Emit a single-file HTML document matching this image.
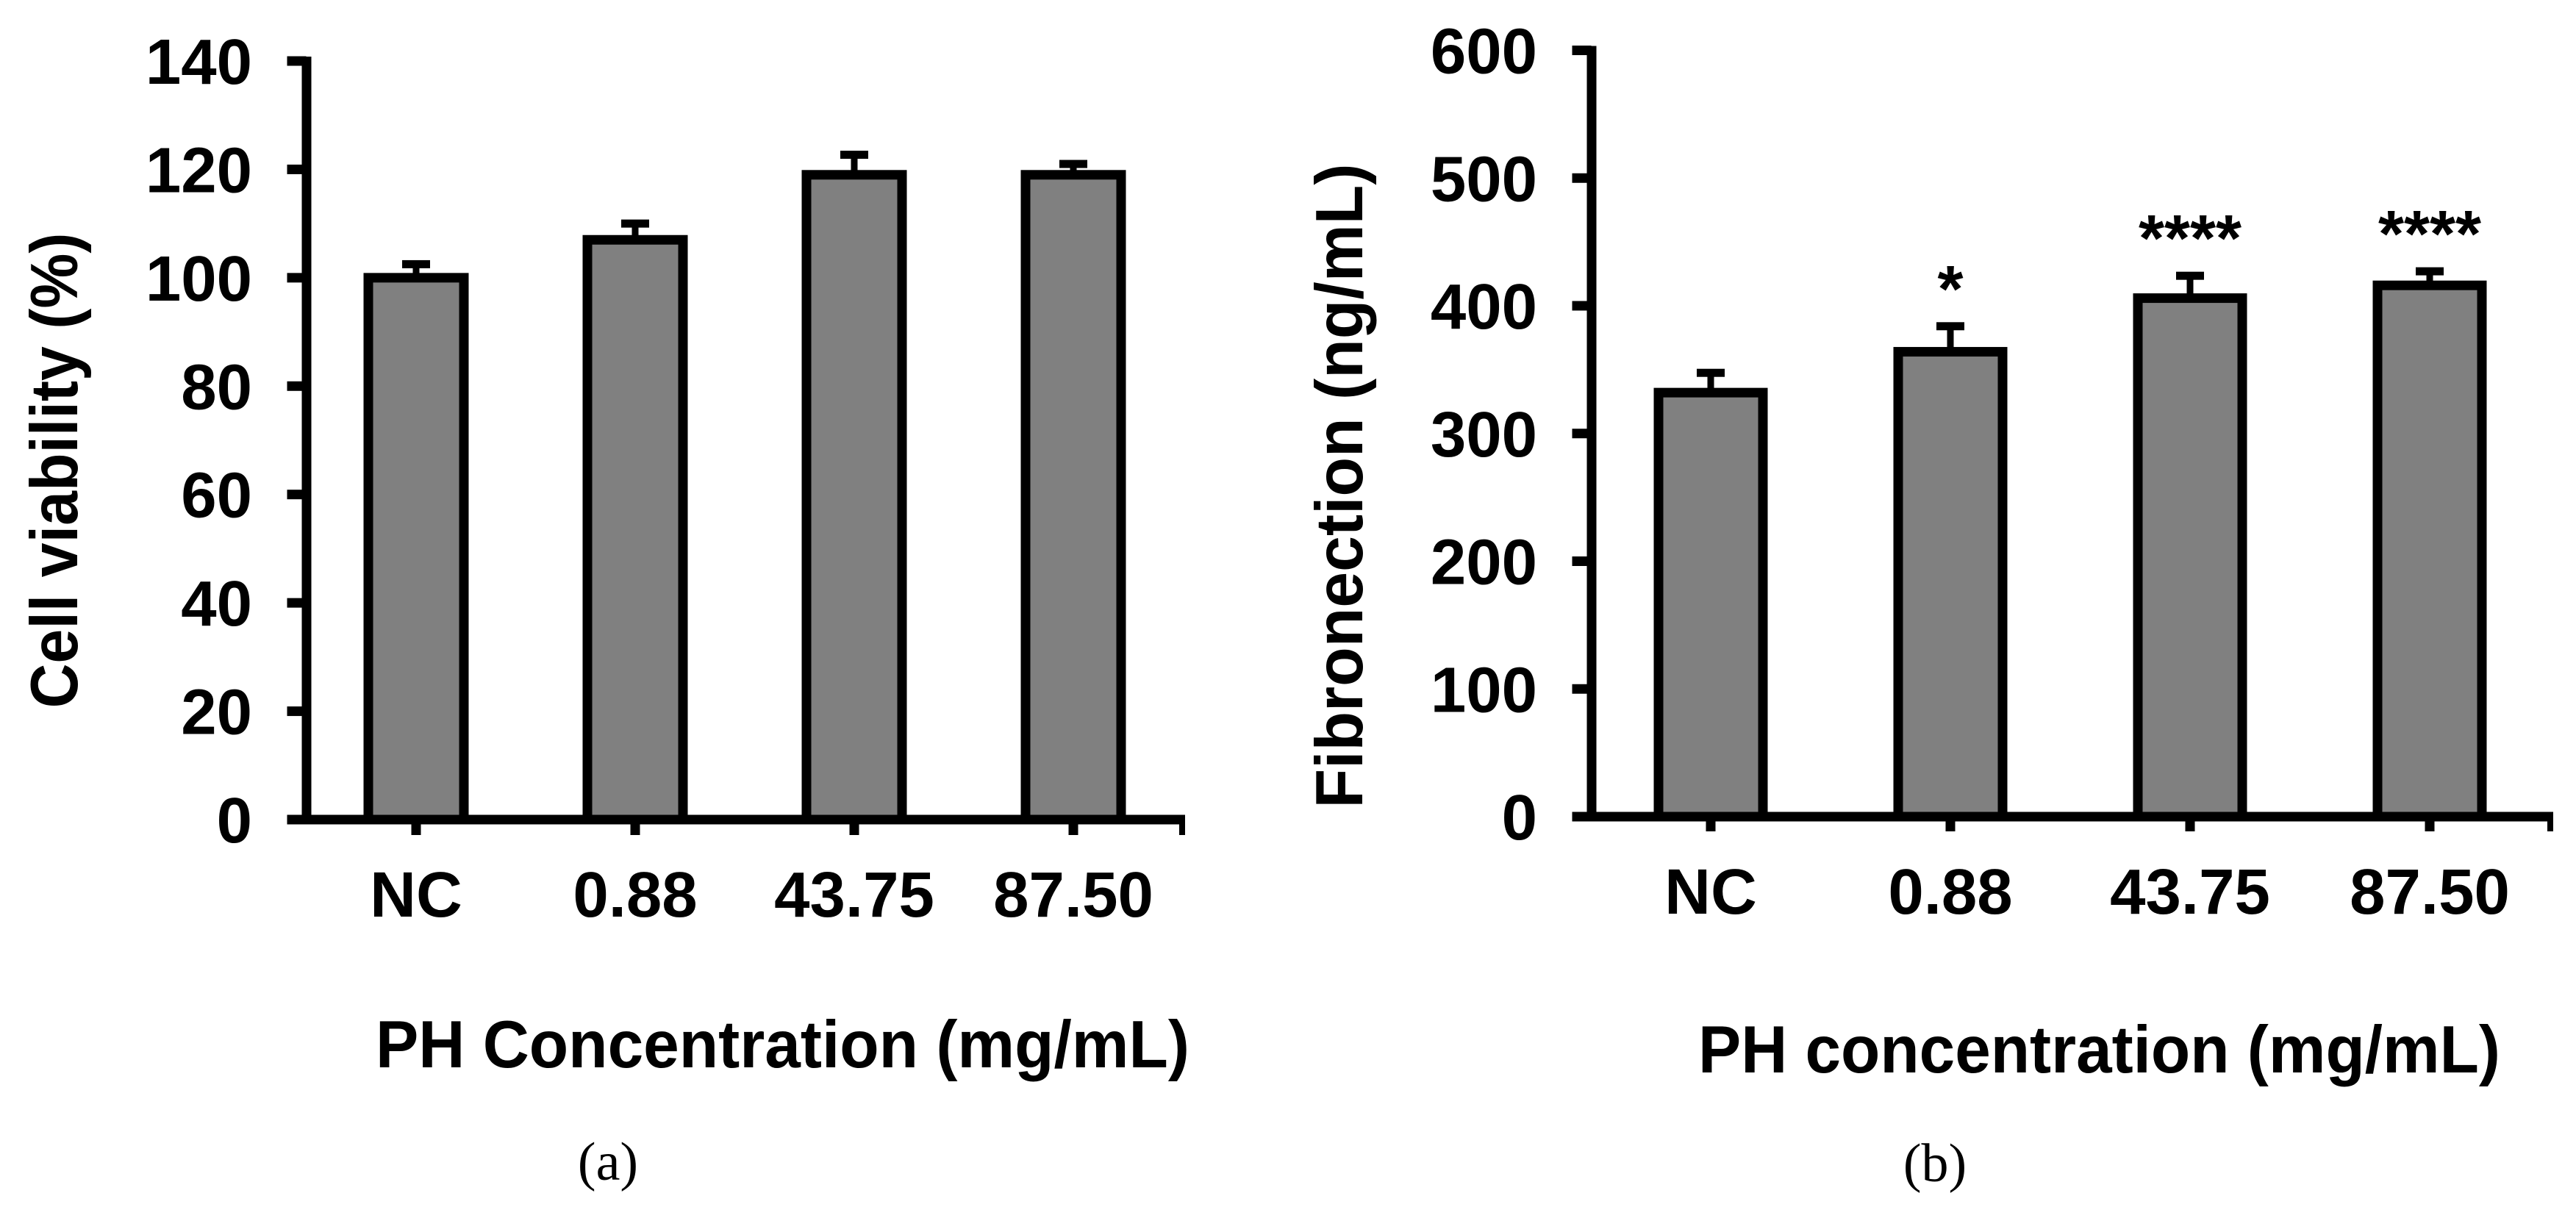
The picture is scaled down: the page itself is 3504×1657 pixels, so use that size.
<!DOCTYPE html>
<html><head><meta charset="utf-8"><style>
html,body{margin:0;padding:0;background:#fff;}
svg{display:block;}
text{font-family:"Liberation Sans",Arial,sans-serif;font-weight:bold;fill:#000;}
.serif{font-family:"Liberation Serif",serif;font-weight:normal;}
</style></head><body>
<svg id="fig" width="3504" height="1657" viewBox="0 0 3504 1657" xmlns="http://www.w3.org/2000/svg"></svg>
<script>
const categories = ["NC", "0.88", "43.75", "87.50"];
const viabilityValues = [100, 107, 119, 119];
const viabilityErrors = [2.5, 3, 3.7, 2];
const viabilityTicks = [0, 20, 40, 60, 80, 100, 120, 140];
const fibroValues = [332, 364, 406, 416];
const fibroErrors = [15.5, 20, 17.5, 11];
const fibroTicks = [0, 100, 200, 300, 400, 500, 600];
const fibroStars = ["", "*", "****", "****"];

const NS = "http://www.w3.org/2000/svg";
const svg = document.getElementById("fig");
function mk(tag, attrs, parent) {
  const e = document.createElementNS(NS, tag);
  for (const k in attrs) e.setAttribute(k, attrs[k]);
  (parent || svg).appendChild(e);
  return e;
}

function panel(cfg) {
  const g = mk("g", {});
  
  
  const yScale = v => cfg.y0 - (v - 0) * (cfg.y0 - cfg.yTop) / cfg.yMax;
  const xScale = i => cfg.x0c + i * cfg.step;
  const lw = 13;
  cfg.values.forEach((v, i) => {
    const cx = xScale(i);
    const top = yScale(v);
    const r = mk("rect", {x: cx - cfg.barW / 2, y: top, width: cfg.barW, height: cfg.y0 - top, fill: "#808080", stroke: "#000", "stroke-width": lw}, g);
    
    
    const et = yScale(v + cfg.errors[i]);
    const st = mk("rect", {x: cx - 4.5, y: et, width: 9, height: top - et, fill: "#000"}, g);
    
    
    const cap = mk("rect", {x: cx - 19, y: et - 5.5, width: 38, height: 11, fill: "#000"}, g);
    
    
    if (cfg.stars && cfg.stars[i]) {
      const s = mk("text", {x: cx, y: et - cfg.starGap, "font-size": 90, "text-anchor": "middle"}, g);
      s.textContent = cfg.stars[i];
      
      
    }
  });
  const ya = mk("rect", {x: cfg.axisX - lw / 2, y: cfg.yTop - 6, width: lw, height: cfg.y0 - cfg.yTop + 12, fill: "#000"}, g);
  
  
  cfg.ticks.forEach(t => {
    const y = yScale(t);
    const tk = mk("rect", {x: cfg.axisX - lw / 2 - 20, y: y - 6.5, width: 26, height: 13, fill: "#000"}, g);
    
    
    const tl = mk("text", {x: cfg.labelRight, y: y + 31, "font-size": 87, "text-anchor": "end"}, g);
    tl.textContent = t;
    
    
  });
  const xa = mk("rect", {x: cfg.axisX - lw / 2 - 20, y: cfg.y0 - 6.5, width: cfg.xEnd - (cfg.axisX - lw / 2 - 20), height: 13, fill: "#000"}, g);
  
  
  const et = mk("rect", {x: cfg.xEnd - 8, y: cfg.y0 - 6.5, width: 8, height: cfg.tickBottom - cfg.y0 + 6.5, fill: "#000"}, g);
  
  
  categories.forEach((c, i) => {
    const cx = xScale(i);
    const tk = mk("rect", {x: cx - 6.5, y: cfg.y0, width: 13, height: cfg.tickBottom - cfg.y0, fill: "#000"}, g);
    
    
    const tl = mk("text", {x: cx, y: cfg.catBase, "font-size": 87, "text-anchor": "middle"}, g);
    tl.textContent = c;
    
    
  });
  const xt = mk("text", {x: cfg.xtX, y: cfg.xtBase, "font-size": 91, textLength: cfg.xtLen, lengthAdjust: "spacingAndGlyphs"}, g);
  xt.textContent = cfg.xTitle;
  
  
  const yt = mk("text", {x: 0, y: 0, "font-size": 91, "text-anchor": "middle", textLength: cfg.ytLen, lengthAdjust: "spacingAndGlyphs", transform: "translate(" + cfg.ytX + "," + cfg.ytY + ") rotate(-90)"}, g);
  yt.textContent = cfg.yTitle;
  
  
  const pl = mk("text", {x: cfg.plX, y: cfg.plBase, "font-size": 74, "text-anchor": "middle", class: "serif"}, g);
  pl.textContent = cfg.panelLabel;
  
  
}

panel({name: "panel-a-cell-viability", values: viabilityValues, errors: viabilityErrors, ticks: viabilityTicks,
  yMax: 140, y0: 1115, yTop: 83, axisX: 417, labelRight: 343, x0c: 566, step: 298, barW: 130,
  xEnd: 1612, tickBottom: 1136, catBase: 1247,
  xTitle: "PH Concentration (mg/mL)", xtX: 511, xtBase: 1452, xtLen: 1107,
  yTitle: "Cell viability (%)", ytX: 105, ytY: 640, ytLen: 647,
  panelLabel: "(a)", plX: 827, plBase: 1605});

panel({name: "panel-b-fibronection", values: fibroValues, errors: fibroErrors, ticks: fibroTicks, stars: fibroStars, starGap: 20,
  yMax: 600, y0: 1111, yTop: 68.5, axisX: 2165, labelRight: 2091, x0c: 2327, step: 326, barW: 142,
  xEnd: 3473, tickBottom: 1131, catBase: 1243,
  xTitle: "PH concentration (mg/mL)", xtX: 2310, xtBase: 1459, xtLen: 1091,
  yTitle: "Fibronection (ng/mL)", ytX: 1853, ytY: 661, ytLen: 877,
  panelLabel: "(b)", plX: 2632, plBase: 1607});
</script>
</body></html>
